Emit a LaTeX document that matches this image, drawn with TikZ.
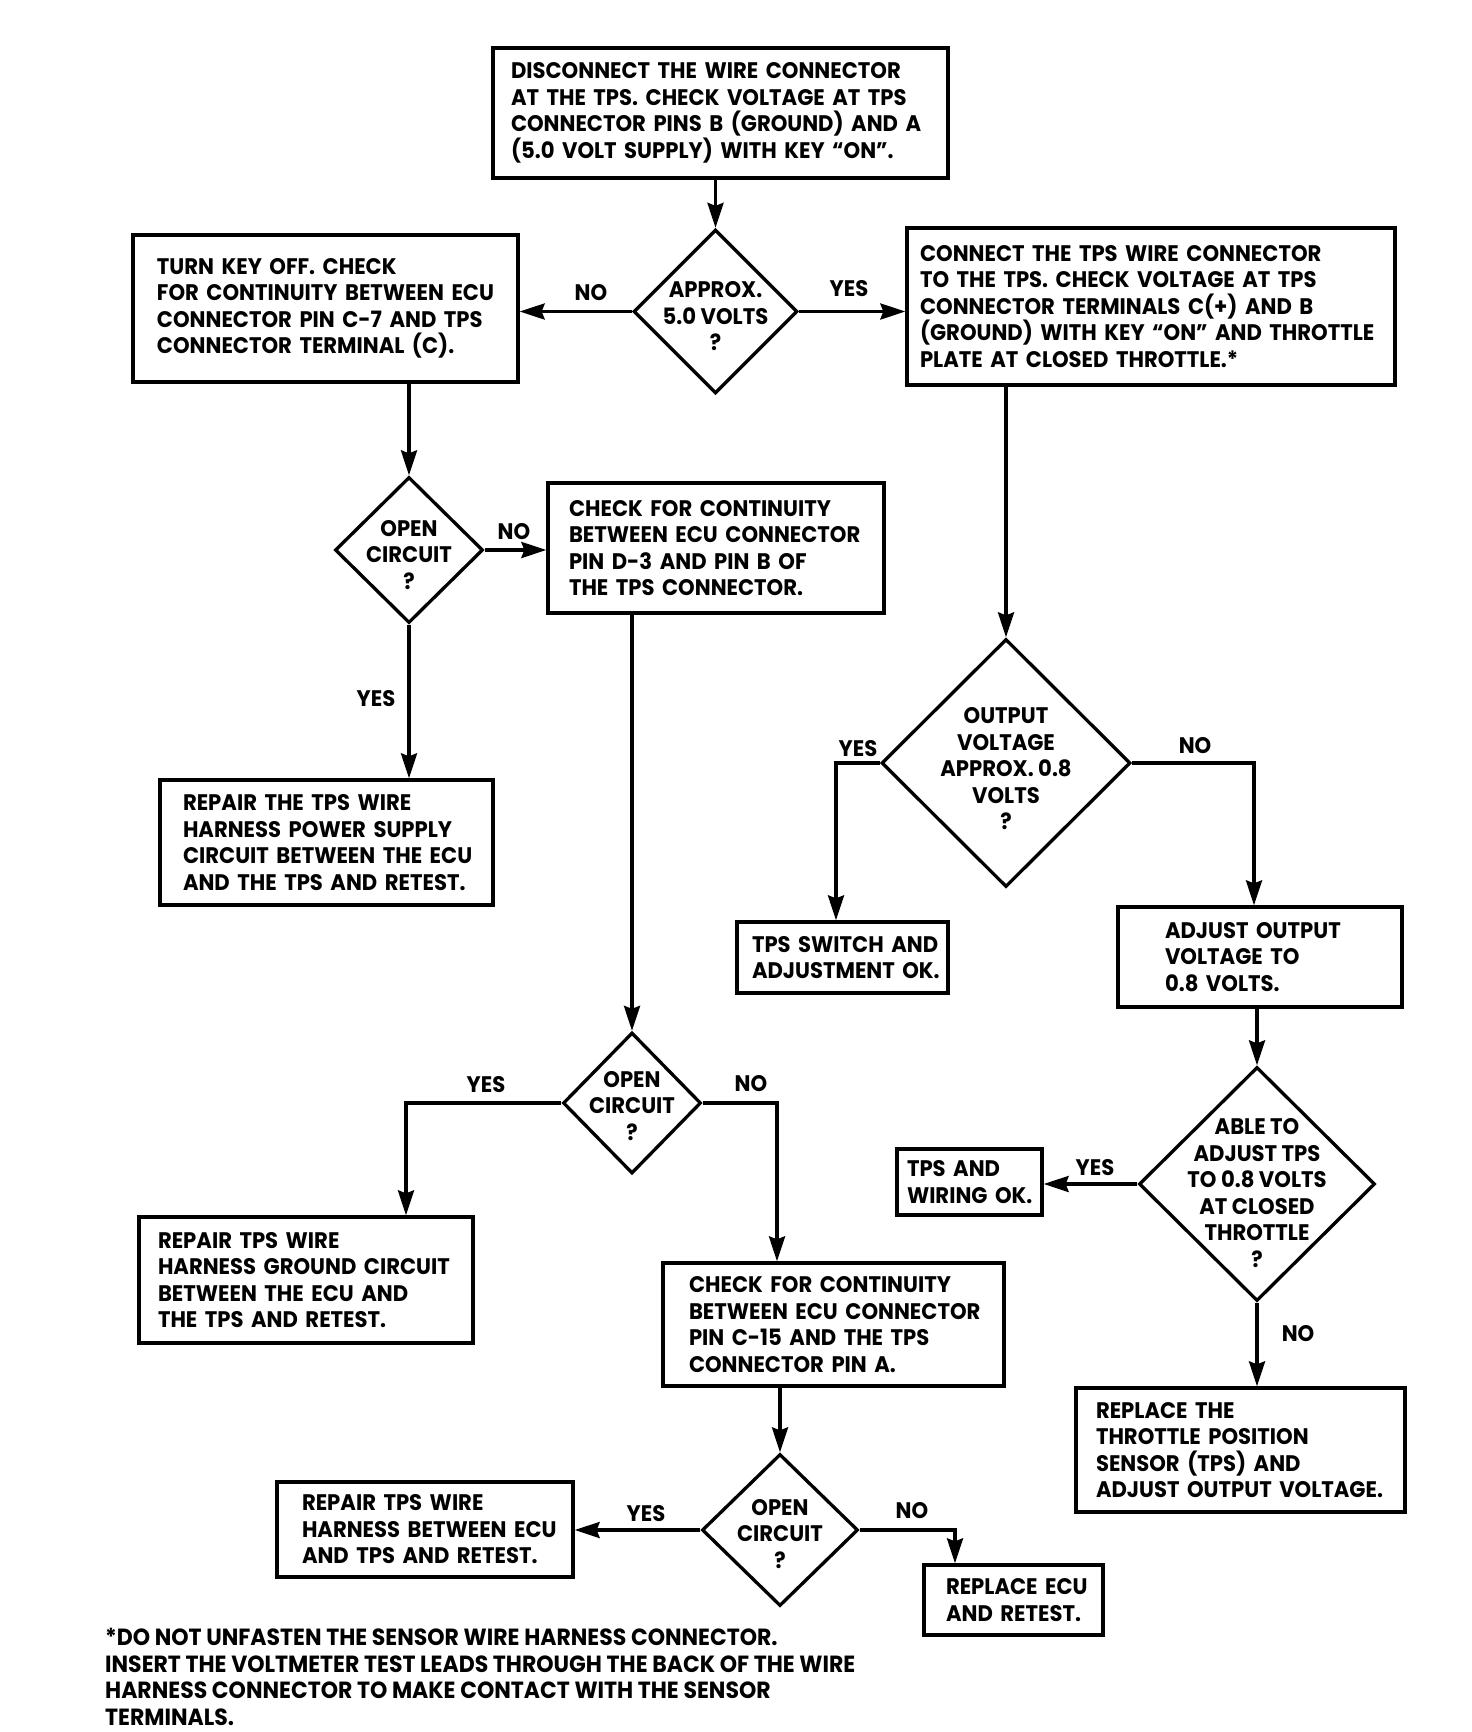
\documentclass[tikz,border=0pt]{standalone}
\usepackage{fontspec}
\setmainfont{Poppins}[FakeStretch=0.94]
\usetikzlibrary{shapes.geometric,arrows.meta}
\newcommand\ml[1]{\mbox{#1}}
\begin{document}
\begin{tikzpicture}[x=1bp,y=-1bp,
  every node/.style={font=\fontsize{22.5bp}{26.5bp}\selectfont\bfseries},
  box/.style={draw, line width=3.3bp, align=left, inner ysep=0pt},
  dia/.style={diamond, draw, line width=3.3bp, inner sep=0pt},
  dtext/.style={align=center, inner sep=0pt},
  lbl/.style={inner sep=0pt},
  conn/.style={line width=3.3bp, -{Stealth[length=25bp,width=16bp,inset=3bp]}}]
\fill[white] (0,0) rectangle (1472,1732);
\useasboundingbox (0,0) rectangle (1472,1732);

% boxes
\node[box, text width=419bp, inner xsep=18bp, minimum height=130bp] (top) at (720.5,113)
 {\ml{DISCONNECT THE WIRE CONNECTOR}\\\ml{AT THE TPS. CHECK VOLTAGE AT TPS}\\\ml{CONNECTOR PINS B (GROUND) AND A}\\\ml{(5.0 VOLT SUPPLY) WITH KEY “ON”.}};
\node[box, text width=337bp, inner xsep=24bp, minimum height=147bp] (turnkey) at (325.5,308.5)
 {\ml{TURN KEY OFF. CHECK}\\\ml{FOR CONTINUITY BETWEEN ECU}\\\ml{CONNECTOR PIN C-7 AND TPS}\\\ml{CONNECTOR TERMINAL (C).}};
\node[box, text width=462bp, inner xsep=13bp, minimum height=157bp] (connect) at (1151,306.5)
 {\ml{CONNECT THE TPS WIRE CONNECTOR}\\\ml{TO THE TPS. CHECK VOLTAGE AT TPS}\\\ml{CONNECTOR TERMINALS C(+) AND B}\\\ml{(GROUND) WITH KEY “ON” AND THROTTLE}\\\ml{PLATE AT CLOSED THROTTLE.*}};
\node[box, text width=294bp, inner xsep=21bp, minimum height=130bp] (dbox) at (716,548)
 {\ml{CHECK FOR CONTINUITY}\\\ml{BETWEEN ECU CONNECTOR}\\\ml{PIN D-3 AND PIN B OF}\\\ml{THE TPS CONNECTOR.}};
\node[box, text width=287bp, inner xsep=23bp, minimum height=125bp] (rpower) at (326.5,842.5)
 {\ml{REPAIR THE TPS WIRE}\\\ml{HARNESS POWER SUPPLY}\\\ml{CIRCUIT BETWEEN THE ECU}\\\ml{AND THE TPS AND RETEST.}};
\node[box, text width=181bp, inner xsep=15bp, minimum height=71bp] (tpsswitch) at (842.5,957.5)
 {\ml{TPS SWITCH AND}\\\ml{ADJUSTMENT OK.}};
\node[box, text width=190bp, inner xsep=47bp, minimum height=100bp] (adjust) at (1260,957)
 {\ml{ADJUST OUTPUT}\\\ml{VOLTAGE TO}\\\ml{0.8 VOLTS.}};
\node[box, text width=296bp, inner xsep=19bp, minimum height=126bp] (rground) at (306,1280)
 {\ml{REPAIR TPS WIRE}\\\ml{HARNESS GROUND CIRCUIT}\\\ml{BETWEEN THE ECU AND}\\\ml{THE TPS AND RETEST.}};
\node[box, text width=125bp, inner xsep=10bp, minimum height=66bp] (tpswiring) at (969.5,1182)
 {\ml{TPS AND}\\\ml{WIRING OK.}};
\node[box, text width=289bp, inner xsep=26bp, minimum height=123bp] (cbox) at (833.5,1324.5)
 {\ml{CHECK FOR CONTINUITY}\\\ml{BETWEEN ECU CONNECTOR}\\\ml{PIN C-15 AND THE TPS}\\\ml{CONNECTOR PIN A.}};
\node[box, text width=289bp, inner xsep=20bp, minimum height=124bp] (rtps) at (1240.5,1450)
 {\ml{REPLACE THE}\\\ml{THROTTLE POSITION}\\\ml{SENSOR (TPS) AND}\\\ml{ADJUST OUTPUT VOLTAGE.}};
\node[box, text width=246bp, inner xsep=25bp, minimum height=95bp] (rharness) at (425,1529.5)
 {\ml{REPAIR TPS WIRE}\\\ml{HARNESS BETWEEN ECU}\\\ml{AND TPS AND RETEST.}};
\node[box, text width=135bp, inner xsep=22bp, minimum height=70bp] (recu) at (1013.5,1600)
 {\ml{REPLACE ECU}\\\ml{AND RETEST.}};

% diamonds
\node[dia, minimum width=164bp, minimum height=164bp] (d1) at (715.5,311.5) {};
\node[dtext] (d1t) at ([yshift=-5bp]d1.center) {APPROX.\\5.0 VOLTS\\?};
\node[dia, minimum width=148bp, minimum height=146bp] (d2) at (409,550) {};
\node[dtext] (d2t) at ([yshift=-5bp]d2.center) {OPEN\\CIRCUIT\\?};
\node[dia, minimum width=249bp, minimum height=248bp] (d3) at (1006,763) {};
\node[dtext] (d3t) at ([yshift=-6bp]d3.center) {OUTPUT\\VOLTAGE\\APPROX. 0.8\\VOLTS\\?};
\node[dia, minimum width=138bp, minimum height=141bp] (d4) at (632,1103) {};
\node[dtext] (d4t) at ([yshift=-3bp]d4.center) {OPEN\\CIRCUIT\\?};
\node[dia, minimum width=236bp, minimum height=234bp] (d5) at (1257,1184) {};
\node[dtext] (d5t) at ([yshift=-9bp]d5.center) {ABLE TO\\ADJUST TPS\\TO 0.8 VOLTS\\AT CLOSED\\THROTTLE\\?};
\node[dia, minimum width=156bp, minimum height=152bp] (d6) at (780,1530) {};
\node[dtext] (d6t) at ([yshift=-4bp]d6.center) {OPEN\\CIRCUIT\\?};

% labels
\node[lbl] (l1) at (591,293) {NO};
\node[lbl] (l2) at (849,289) {YES};
\node[lbl] (l3) at (514,532) {NO};
\node[lbl] (l4) at (376,699) {YES};
\node[lbl] (l5) at (858,749) {YES};
\node[lbl] (l6) at (1195,746) {NO};
\node[lbl] (l7) at (486,1085) {YES};
\node[lbl] (l8) at (751,1084) {NO};
\node[lbl] (l9) at (1095,1168) {YES};
\node[lbl] (l10) at (1298,1334) {NO};
\node[lbl] (l11) at (646,1514) {YES};
\node[lbl] (l12) at (912,1511) {NO};

% footnote
\node[anchor=north west, align=left, inner sep=0pt, font=\fontsize{23.4bp}{26.5bp}\selectfont\bfseries] (fn) at (105,1628)
 {*DO NOT UNFASTEN THE SENSOR WIRE HARNESS CONNECTOR.\\INSERT THE VOLTMETER TEST LEADS THROUGH THE BACK OF THE WIRE\\HARNESS CONNECTOR TO MAKE CONTACT WITH THE SENSOR\\TERMINALS.};

% connectors
\draw[conn] (d1.north |- top.south) -- (d1.north);
\draw[conn] (d1.west) -- (d1.west -| turnkey.east);
\draw[conn] (d1.east) -- (d1.east -| connect.west);
\draw[conn] (d2.north |- turnkey.south) -- (d2.north);
\draw[conn] (d2.east) -- (d2.east -| dbox.west);
\draw[conn] (d2.south) -- (d2.south |- rpower.north);
\draw[conn] (d3.north |- connect.south) -- (d3.north);
\draw[conn] (d3.west) -| ([xshift=-6.5bp]tpsswitch.north);
\draw[conn] (d3.east) -| ([xshift=-6bp]adjust.north);
\draw[conn] (d4.north |- dbox.south) -- (d4.north);
\draw[conn] (d4.west) -| ([xshift=100bp]rground.north);
\draw[conn] (d4.east) -| ([xshift=-56.5bp]cbox.north);
\draw[conn] (d5.north |- adjust.south) -- (d5.north);
\draw[conn] (d5.west) -- (d5.west -| tpswiring.east);
\draw[conn] (d5.south) -- (d5.south |- rtps.north);
\draw[conn] (d6.north |- cbox.south) -- (d6.north);
\draw[conn] (d6.west) -- (d6.west -| rharness.east);
\draw[conn] (d6.east) -| ([xshift=-58.5bp]recu.north);
\end{tikzpicture}
\end{document}
